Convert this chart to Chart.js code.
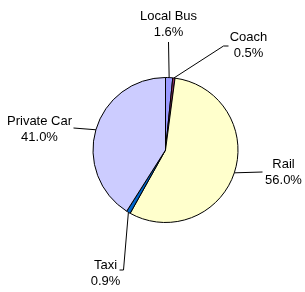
<!DOCTYPE html>
<html lang="en">
<head>
  <meta charset="UTF-8">
  <title>Travel Mode Share</title>
  <script src="https://cdn.jsdelivr.net/npm/chart.js"></script>
  <style>
    html, body { margin: 0; padding: 0; background: #fff; }
    #wrap { width: 305px; height: 292px; }
  </style>
</head>
<body>
  <div id="wrap"><canvas id="modeChart" width="305" height="292"></canvas></div>
  <script>
    // Data
    const modes = ['Local Bus', 'Coach', 'Rail', 'Taxi', 'Private Car'];
    const shares = [1.6, 0.5, 56.0, 0.9, 41.0];
    const sliceColors = ['#9999FF', '#993366', '#FFFFCC', '#0066CC', '#CCCCFF'];

    // Callout placement, relative to pie centre: text centre, then leader path points
    const labelText = [[3, -126], [83, -105], [118, 22], [-60, 123], [-126, -21]];
    const labelLeader = [
      [[3, -108]],
      [[58, -104], [63, -104]],
      [[97, 22]],
      [[-42, 120], [-46, 120]],
      [[-92, -22]]
    ];

    const calloutPlugin = {
      id: 'callouts',
      afterDatasetsDraw(chart) {
        const ctx = chart.ctx;
        const arcs = chart.getDatasetMeta(0).data;
        ctx.save();
        ctx.font = '13px "Liberation Sans", Arial, sans-serif';
        ctx.fillStyle = '#000';
        ctx.strokeStyle = '#000';
        ctx.lineWidth = 1;
        ctx.textAlign = 'center';
        ctx.textBaseline = 'middle';
        arcs.forEach((arc, i) => {
          const { x, y, startAngle, endAngle, outerRadius } = arc.getProps(['x', 'y', 'startAngle', 'endAngle', 'outerRadius'], true);
          const mid = (startAngle + endAngle) / 2;
          ctx.beginPath();
          ctx.moveTo(x + Math.cos(mid) * outerRadius, y + Math.sin(mid) * outerRadius);
          labelLeader[i].forEach(p => ctx.lineTo(x + p[0], y + p[1]));
          ctx.stroke();
          const tx = x + labelText[i][0];
          const ty = y + labelText[i][1];
          ctx.fillText(modes[i], tx, ty - 8);
          ctx.fillText(shares[i].toFixed(1) + '%', tx, ty + 8.5);
        });
        ctx.restore();
      }
    };

    new Chart(document.getElementById('modeChart').getContext('2d'), {
      type: 'pie',
      data: {
        labels: modes,
        datasets: [{
          data: shares,
          backgroundColor: sliceColors,
          borderColor: '#000',
          borderWidth: 1
        }]
      },
      options: {
        responsive: false,
        animation: false,
        layout: { padding: { top: 77, bottom: 69, left: 92, right: 66 } },
        plugins: {
          legend: { display: false },
          tooltip: { enabled: false }
        }
      },
      plugins: [calloutPlugin]
    });
  </script>
</body>
</html>
